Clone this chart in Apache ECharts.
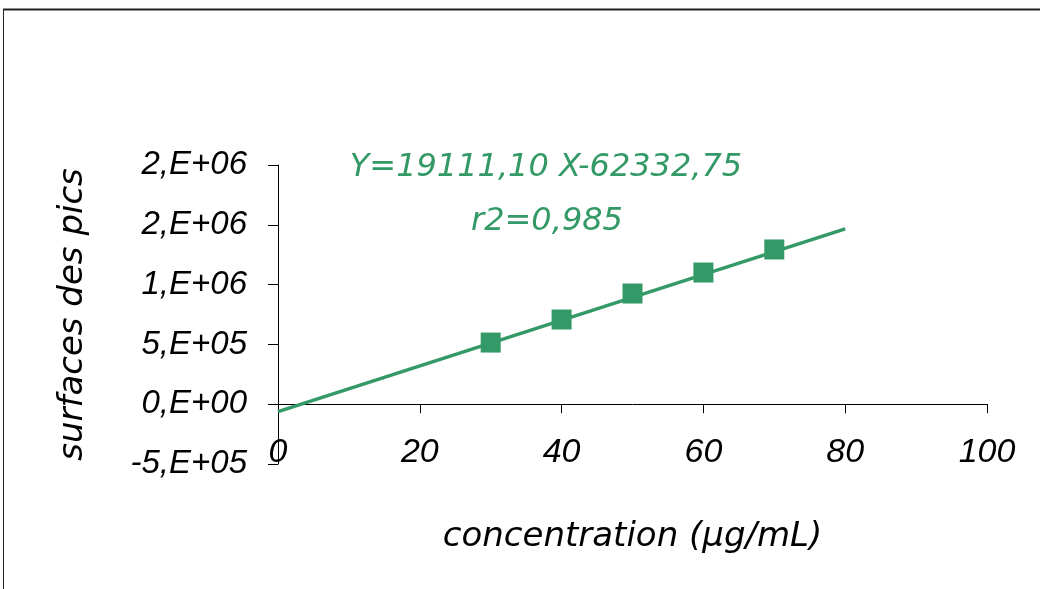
<!DOCTYPE html>
<html>
<head>
<meta charset="utf-8">
<script src="https://cdn.jsdelivr.net/npm/echarts@6/dist/echarts.min.js"></script>
<style>
html,body{margin:0;padding:0;background:#fff;}
#chart{width:1040px;height:589px;}
</style>
</head>
<body>
<div id="chart"></div>
<script>
// Data
const concentrations = [30, 40, 50, 60, 70];
const peakAreas = [515500, 708000, 925500, 1101000, 1293700];
const trendX = [0, 80];
const trendY = [-62333, 1466556];
const yTickLabels = ['-5,E+05', '0,E+00', '5,E+05', '1,E+06', '2,E+06', '2,E+06'];
const equationText = 'Y=19111,10 X-62332,75';
const r2Text = 'r2=0,985';

const green = '#339966';
const comic = '"DejaVu Sans", "Noto Sans", sans-serif';
const arial = '"Liberation Sans", Arial, sans-serif';

const chart = echarts.init(document.getElementById('chart'));
chart.setOption({
  backgroundColor: '#ffffff',
  animation: false,
  grid: { left: 278, right: 53, top: 165, bottom: 125, containLabel: false, outerBoundsMode: 'none' },
  xAxis: {
    type: 'value', min: 0, max: 100, interval: 20,
    name: 'concentration (µg/mL)', nameLocation: 'middle', nameGap: 56,
    nameTextStyle: { fontFamily: comic, fontStyle: 'italic', fontSize: 34, color: '#000' },
    axisLine: { onZero: true, lineStyle: { color: '#000', width: 1 } },
    axisTick: { show: true, length: 9, lineStyle: { color: '#000' } },
    axisLabel: { margin: -28, fontFamily: arial, fontStyle: 'italic', fontSize: 34, color: '#000' },
    splitLine: { show: false }
  },
  yAxis: {
    type: 'value', min: -500000, max: 2000000, interval: 500000,
    name: 'surfaces des pics', nameLocation: 'middle', nameGap: 188, nameRotate: 90,
    nameTextStyle: { fontFamily: comic, fontStyle: 'italic', fontSize: 34, color: '#000' },
    axisLine: { show: true, lineStyle: { color: '#000', width: 1 } },
    axisTick: { show: true, length: 10, lineStyle: { color: '#000' } },
    axisLabel: {
      margin: 31, fontFamily: arial, fontStyle: 'italic', fontSize: 33, color: '#000',
      formatter: function (v) { return yTickLabels[Math.round((v + 500000) / 500000)]; }
    },
    splitLine: { show: false }
  },
  series: [
    {
      type: 'line', data: trendX.map((x, i) => [x, trendY[i]]),
      symbol: 'none', lineStyle: { color: green, width: 3.5 }, z: 2
    },
    {
      type: 'scatter', data: concentrations.map((x, i) => [x, peakAreas[i]]),
      symbol: 'rect', symbolSize: 20, itemStyle: { color: green, opacity: 1 }, z: 3
    }
  ],
  graphic: [
    { type: 'line', shape: { x1: 3, y1: 9.5, x2: 1040, y2: 9.5 }, style: { stroke: '#222', lineWidth: 2 } },
    { type: 'line', shape: { x1: 3.5, y1: 9, x2: 3.5, y2: 589 }, style: { stroke: '#222', lineWidth: 1 } },
    { type: 'text', x: 546, y: 168, style: { text: equationText, fill: green, font: 'italic 32px ' + comic, textAlign: 'center', textVerticalAlign: 'middle' } },
    { type: 'text', x: 547, y: 222, style: { text: r2Text, fill: green, font: 'italic 32px ' + comic, textAlign: 'center', textVerticalAlign: 'middle' } }
  ]
});
</script>
</body>
</html>
